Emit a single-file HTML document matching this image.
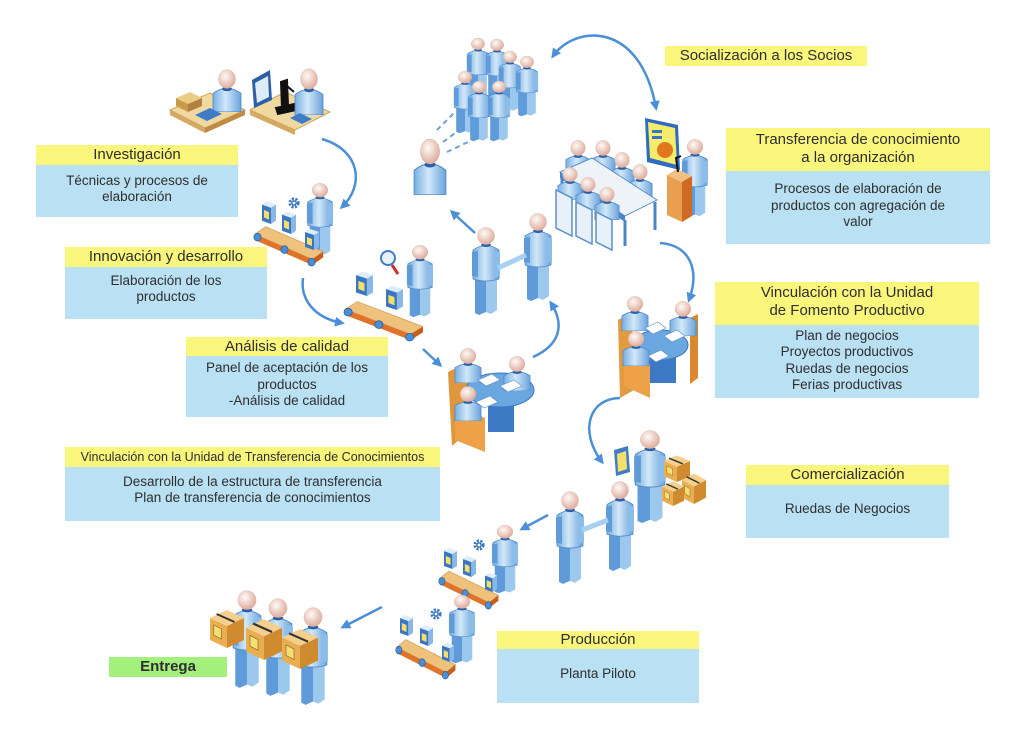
<!DOCTYPE html>
<html><head><meta charset="utf-8">
<style>
html,body{margin:0;padding:0;background:#fff;}
#c{position:relative;width:1024px;height:740px;overflow:hidden;background:#fff;font-family:"Liberation Sans",sans-serif;color:#2e2e2e;}
svg{position:absolute;left:0;top:0;}
.bx{position:absolute;text-align:center;}
.h{background:#faf67c;font-size:15px;line-height:20px;}
.b{background:#b9e1f3;font-size:13.5px;line-height:16.5px;box-sizing:border-box;}
</style></head><body><div id="c">
<svg width="1024" height="740" viewBox="0 0 1024 740">
<defs>
<linearGradient id="gb" x1="0" x2="1"><stop offset="0" stop-color="#78afe2"/><stop offset=".45" stop-color="#d2e8f9"/><stop offset="1" stop-color="#6aa3dc"/></linearGradient>
<radialGradient id="gh" cx=".4" cy=".35" r=".7"><stop offset="0" stop-color="#fffaf6"/><stop offset="1" stop-color="#dba696"/></radialGradient>
<marker id="ah" viewBox="0 0 10 10" refX="7" refY="5" markerWidth="10" markerHeight="10" markerUnits="userSpaceOnUse" orient="auto-start-reverse"><path d="M0,0 L10,5 L0,10 Z" fill="#4b8fd8"/></marker>
<symbol id="man" viewBox="0 0 30 90" preserveAspectRatio="none">
<path d="M4,46 L15,47 L15,86 L8,89 L4,87Z" fill="#5f9bd8"/>
<path d="M15,47 L26,46 L26,84 L20,88 L15,86Z" fill="#9cc8ee"/>
<path d="M2,24 Q15,15 28,24 L28,53 Q15,57 2,53Z" fill="url(#gb)" stroke="#4d88c8" stroke-width=".8"/>
<path d="M1,26 L7,25 L7,51 L1,50Z" fill="#5f9bd8"/>
<path d="M23,25 L29,26 L29,50 L23,51Z" fill="#8cbce8"/>
<ellipse cx="15" cy="19" rx="5" ry="2" fill="#2d5fa6"/>
<circle cx="15" cy="10" r="8.5" fill="url(#gh)" stroke="#d9b3a5" stroke-width=".4"/>
</symbol>
<symbol id="bust" viewBox="0 0 30 40" preserveAspectRatio="none">
<path d="M1,40 L1,23 Q15,14 29,23 L29,40Z" fill="url(#gb)" stroke="#4d88c8" stroke-width=".8"/>
<ellipse cx="15" cy="19" rx="5" ry="2" fill="#2d5fa6"/>
<circle cx="15" cy="10" r="8.5" fill="url(#gh)" stroke="#d9b3a5" stroke-width=".4"/>
</symbol>
<symbol id="belt" viewBox="0 0 80 54" preserveAspectRatio="none">
<polygon points="2,20 14,12 78,38 66,46" fill="#eec27c" stroke="#c9944a" stroke-width=".6"/>
<polygon points="2,20 66,46 66,52 2,26" fill="#e0722a"/>
<polygon points="66,46 78,38 78,44 66,52" fill="#c85e1e"/>
<circle cx="5" cy="23" r="4" fill="#4a8ed6" stroke="#2a5e9e" stroke-width=".8"/>
<circle cx="35" cy="36" r="4" fill="#4a8ed6" stroke="#2a5e9e" stroke-width=".8"/>
<circle cx="65" cy="49" r="4" fill="#4a8ed6" stroke="#2a5e9e" stroke-width=".8"/>
</symbol>
<symbol id="bbox" viewBox="0 0 14 24" preserveAspectRatio="none">
<polygon points="0,6 9,9 9,24 0,21" fill="#3b76c2"/>
<polygon points="9,9 14,6 14,21 9,24" fill="#8ab8e6"/>
<polygon points="0,6 5,3 14,6 9,9" fill="#dceefb"/>
<polygon points="2,11 7,13 7,20 2,18" fill="#f2e06a"/>
</symbol>
<symbol id="crate" viewBox="0 0 36 40" preserveAspectRatio="none">
<polygon points="0,10 18,18 18,40 0,32" fill="#eaae52"/>
<polygon points="18,18 36,10 36,32 18,40" fill="#d08a30"/>
<polygon points="0,10 18,2 36,10 18,18" fill="#f5cf8c"/>
<line x1="7" y1="6" x2="26" y2="14" stroke="#333" stroke-width="2"/>
<polygon points="4,17 12,21 12,31 4,27" fill="#f3e070" stroke="#7a5a20" stroke-width=".6"/>
</symbol>
<symbol id="gear" viewBox="0 0 20 20"><circle cx="10" cy="10" r="6" fill="none" stroke="#3b76c2" stroke-width="4" stroke-dasharray="3 2"/><circle cx="10" cy="10" r="4" fill="#3b76c2"/><circle cx="10" cy="10" r="2" fill="#fff"/></symbol>
</defs>

<!-- arrows -->
<g fill="none" stroke="#4b8fd8" stroke-width="2.5">
<path d="M553,56 C575,25 640,20 656,108" marker-start="url(#ah)" marker-end="url(#ah)"/>
<path d="M322,139 C360,150 365,185 342,207" marker-end="url(#ah)"/>
<path d="M303,278 C300,300 315,318 342,323" marker-end="url(#ah)"/>
<path d="M423,349 L440,365" marker-end="url(#ah)"/>
<path d="M475,233 L452,212" marker-end="url(#ah)"/>
<path d="M533,357 C560,345 565,325 551,303" marker-end="url(#ah)"/>
<path d="M660,243 C690,245 700,270 689,300" marker-end="url(#ah)"/>
<path d="M620,398 C590,398 578,430 602,462" marker-end="url(#ah)"/>
<path d="M548,515 L522,529" marker-end="url(#ah)"/>
<path d="M382,607 L343,627" marker-end="url(#ah)"/>
</g>

<!-- desk scenes -->
<polygon points="170,110 210,93 245,110 205,128" fill="#f0d9a0" stroke="#c9a45c"/>
<polygon points="170,110 205,128 205,133 170,115" fill="#d6a860"/>
<polygon points="205,128 245,110 245,115 205,133" fill="#c08a44"/>
<polygon points="176,98 190,92 202,98 188,104" fill="#eccb84"/>
<polygon points="176,98 188,104 188,112 176,106" fill="#c99a4a"/>
<polygon points="188,104 202,98 202,106 188,112" fill="#b08040"/>
<use href="#bust" x="212" y="68" width="30" height="44"/>
<polygon points="195,115 210,108 222,114 207,121" fill="#3f7cc8"/>
<polygon points="250,110 285,92 330,112 295,130" fill="#f0d9a0" stroke="#c9a45c"/>
<polygon points="250,110 295,130 295,135 250,115" fill="#d6a860"/>
<polygon points="252,80 270,70 272,100 254,108" fill="#2d5fa6"/>
<polygon points="255,83 268,76 269,97 257,103" fill="#dcecf8"/>
<path d="M281,82 L287,80 L288,106 L282,108Z M276,108 L294,104 L296,110 L278,114Z M287,86 L294,92" fill="#111" stroke="#111" stroke-width="2"/>
<use href="#bust" x="294" y="67" width="30" height="48"/>
<polygon points="290,118 300,113 312,119 302,124" fill="#3f7cc8"/>

<!-- crowd -->
<use href="#man" x="466" y="37" width="24" height="62"/>
<use href="#man" x="485" y="38" width="24" height="62"/>
<use href="#man" x="498" y="50" width="24" height="62"/>
<use href="#man" x="515" y="55" width="24" height="62"/>
<use href="#man" x="453" y="70" width="24" height="64"/>
<use href="#man" x="467" y="80" width="24" height="62"/>
<use href="#man" x="487" y="80" width="24" height="62"/>
<use href="#bust" x="413" y="137" width="34" height="58"/>
<g stroke="#6aa0d8" stroke-width="2" stroke-dasharray="5 4"><path d="M437,130 L455,112"/><path d="M443,142 L462,128"/><path d="M447,152 L468,142"/></g>

<!-- conveyor 1 -->
<use href="#man" x="306" y="182" width="28" height="74"/>
<use href="#belt" x="253" y="215" width="72" height="52"/>
<use href="#bbox" x="262" y="198" width="14" height="26"/>
<use href="#bbox" x="282" y="208" width="14" height="26"/>
<use href="#gear" x="287" y="196" width="14" height="14"/>
<use href="#bbox" x="305" y="226" width="14" height="24"/>

<!-- conveyor 2 inspector -->
<use href="#man" x="406" y="244" width="28" height="74"/>
<use href="#belt" x="343" y="290" width="82" height="52"/>
<use href="#bbox" x="356" y="268" width="17" height="28"/>
<use href="#bbox" x="386" y="282" width="17" height="28"/>
<circle cx="388" cy="258" r="7" fill="#e6f1fa" stroke="#3f7cc8" stroke-width="2"/>
<line x1="392" y1="265" x2="398" y2="274" stroke="#d0302a" stroke-width="3"/>

<!-- handshake 1 -->
<use href="#man" x="471" y="226" width="30" height="90"/>
<use href="#man" x="523" y="212" width="30" height="90"/>
<line x1="498" y1="268" x2="526" y2="255" stroke="#a8d0f0" stroke-width="5"/>

<!-- round table 1 -->
<polygon points="448,372 468,362 470,430 452,446" fill="#e0963c"/>
<rect x="488" y="392" width="26" height="40" fill="#3d78c4"/>
<ellipse cx="500" cy="390" rx="34" ry="17" fill="#6aa6e0" stroke="#3d78c4"/>
<use href="#bust" x="454" y="347" width="28" height="36"/>
<use href="#bust" x="503" y="355" width="28" height="36"/>
<polygon points="478,380 492,374 500,380 486,386" fill="#fff" stroke="#5b8fc8" stroke-width=".6"/>
<polygon points="500,386 514,380 522,386 508,392" fill="#fff" stroke="#5b8fc8" stroke-width=".6"/>
<polygon points="455,405 485,418 485,452 455,440" fill="#eda24a"/>
<use href="#bust" x="454" y="385" width="28" height="36"/>
<polygon points="476,402 490,396 498,402 484,408" fill="#fff" stroke="#5b8fc8" stroke-width=".6"/>

<!-- conference -->
<use href="#bust" x="565" y="139" width="26" height="36"/>
<use href="#bust" x="590" y="139" width="26" height="36"/>
<use href="#bust" x="609" y="151" width="26" height="36"/>
<use href="#bust" x="627" y="163" width="26" height="36"/>
<polygon points="560,172 592,158 657,200 625,216" fill="#eef3f8" stroke="#5b8fc8"/>
<polygon points="560,172 625,216 625,222 560,178" fill="#4a84c8"/>
<g stroke="#4a84c8" stroke-width="3"><line x1="625" y1="220" x2="625" y2="246"/><line x1="655" y1="202" x2="655" y2="230"/><line x1="562" y1="178" x2="562" y2="205"/></g>
<use href="#bust" x="557" y="166" width="26" height="34"/>
<use href="#bust" x="575" y="176" width="26" height="34"/>
<use href="#bust" x="594" y="186" width="26" height="34"/>
<g fill="#e8f1fa" stroke="#5b8fc8" stroke-width="1.5">
<polygon points="556,190 572,198 572,236 556,228"/>
<polygon points="576,202 592,210 592,244 576,236"/>
<polygon points="596,212 612,220 612,250 596,242"/>
</g>
<polygon points="645,118 678,125 680,170 647,162" fill="#2f6cc0"/>
<polygon points="648,122 675,128 677,165 650,158" fill="#f4ec6a"/>
<circle cx="665" cy="150" r="8" fill="#e07820"/>
<rect x="652" y="130" width="10" height="3" fill="#3b76c2"/>
<rect x="652" y="136" width="10" height="3" fill="#3b76c2"/>
<use href="#man" x="681" y="138" width="28" height="80"/>
<polygon points="667,175 682,182 682,222 667,215" fill="#e8a050"/>
<polygon points="682,182 692,176 692,216 682,222" fill="#d06a20"/>
<polygon points="667,175 677,169 692,176 682,182" fill="#f0c080"/>
<path d="M678,172 L676,158 L681,156" fill="none" stroke="#111" stroke-width="2"/>

<!-- round table 2 -->
<polygon points="618,320 632,312 634,390 620,398" fill="#e39a40"/>
<polygon points="690,318 698,314 698,378 690,384" fill="#d8882e"/>
<rect x="646" y="345" width="30" height="38" fill="#3d78c4"/>
<ellipse cx="660" cy="345" rx="28" ry="15" fill="#6aa6e0" stroke="#3d78c4"/>
<use href="#bust" x="621" y="295" width="28" height="36"/>
<use href="#bust" x="669" y="300" width="28" height="36"/>
<polygon points="645,328 658,322 666,328 653,334" fill="#fff" stroke="#5b8fc8" stroke-width=".6"/>
<polygon points="664,336 677,330 685,336 672,342" fill="#fff" stroke="#5b8fc8" stroke-width=".6"/>
<polygon points="624,352 650,364 650,398 624,386" fill="#eda24a"/>
<use href="#bust" x="622" y="330" width="28" height="36"/>
<polygon points="648,356 661,350 669,356 656,362" fill="#fff" stroke="#5b8fc8" stroke-width=".6"/>

<!-- man with boxes + handshake 2 -->
<use href="#man" x="633" y="429" width="34" height="95"/>
<polygon points="614,450 628,446 630,472 616,476" fill="#3f7cc8"/>
<polygon points="617,454 626,451 627,469 618,472" fill="#f2e06a"/>
<use href="#crate" x="664" y="454" width="26" height="28"/>
<use href="#crate" x="682" y="472" width="24" height="32"/>
<use href="#crate" x="662" y="480" width="22" height="26"/>
<use href="#man" x="555" y="490" width="30" height="95"/>
<use href="#man" x="605" y="480" width="30" height="92"/>
<line x1="582" y1="530" x2="608" y2="520" stroke="#a8d0f0" stroke-width="5"/>

<!-- conveyor 3 -->
<use href="#man" x="491" y="524" width="28" height="70"/>
<use href="#belt" x="438" y="560" width="62" height="50"/>
<use href="#bbox" x="444" y="545" width="13" height="24"/>
<use href="#bbox" x="463" y="553" width="13" height="24"/>
<use href="#gear" x="472" y="538" width="14" height="14"/>
<use href="#bbox" x="485" y="570" width="12" height="22"/>

<!-- conveyor 4 -->
<use href="#man" x="448" y="594" width="28" height="70"/>
<use href="#belt" x="395" y="628" width="62" height="52"/>
<use href="#bbox" x="400" y="612" width="13" height="24"/>
<use href="#bbox" x="420" y="622" width="13" height="24"/>
<use href="#gear" x="429" y="607" width="14" height="14"/>
<use href="#bbox" x="442" y="640" width="12" height="22"/>

<!-- delivery -->
<use href="#man" x="231" y="589" width="32" height="100"/>
<use href="#man" x="262" y="597" width="32" height="100"/>
<use href="#man" x="297" y="606" width="32" height="100"/>
<use href="#crate" x="210" y="608" width="34" height="40"/>
<use href="#crate" x="246" y="617" width="36" height="43"/>
<use href="#crate" x="282" y="627" width="36" height="42"/>
</svg>

<div class="bx" style="left:36px;top:145px;width:202px;">
<div class="h">Investigación</div>
<div class="b" style="height:52px;padding-top:8px;line-height:16px;">Técnicas y procesos de<br>elaboración</div></div>

<div class="bx" style="left:65px;top:247px;width:202px;">
<div class="h">Innovación y desarrollo</div>
<div class="b" style="height:52px;padding-top:6px;line-height:16px;">Elaboración de los<br>productos</div></div>

<div class="bx" style="left:186px;top:337px;width:202px;">
<div class="h" style="height:19px;line-height:19px;">Análisis de calidad</div>
<div class="b" style="height:61px;padding-top:4px;">Panel de aceptación de los<br>productos<br>-Análisis de calidad</div></div>

<div class="bx" style="left:65px;top:447px;width:375px;">
<div class="h" style="font-size:12.5px;">Vinculación con la Unidad de Transferencia de Conocimientos</div>
<div class="b" style="height:54px;padding-top:7px;line-height:16px;">Desarrollo de la estructura de transferencia<br>Plan de transferencia de conocimientos</div></div>

<div class="bx" style="left:665px;top:46px;width:202px;">
<div class="h">Socialización a los Socios</div></div>

<div class="bx" style="left:726px;top:128px;width:264px;">
<div class="h" style="height:43px;box-sizing:border-box;padding-top:3px;line-height:18px;">Transferencia de conocimiento<br>a la organización</div>
<div class="b" style="height:73px;padding-top:10px;">Procesos de elaboración de<br>productos con agregación de<br>valor</div></div>

<div class="bx" style="left:715px;top:282px;width:264px;">
<div class="h" style="height:43px;box-sizing:border-box;padding-top:2px;line-height:18px;">Vinculación con la Unidad<br>de Fomento Productivo</div>
<div class="b" style="height:73px;padding-top:3px;line-height:16.4px;">Plan de negocios<br>Proyectos productivos<br>Ruedas de negocios<br>Ferias productivas</div></div>

<div class="bx" style="left:746px;top:465px;width:203px;">
<div class="h">Comercialización</div>
<div class="b" style="height:53px;padding-top:16px;">Ruedas de Negocios</div></div>

<div class="bx" style="left:497px;top:631px;width:202px;">
<div class="h" style="height:18px;line-height:18px;">Producción</div>
<div class="b" style="height:54px;padding-top:17px;">Planta Piloto</div></div>

<div class="bx" style="left:109px;top:657px;width:118px;height:20px;background:#a3f07c;font-size:15px;line-height:20px;font-weight:bold;">Entrega</div>
</div></body></html>
